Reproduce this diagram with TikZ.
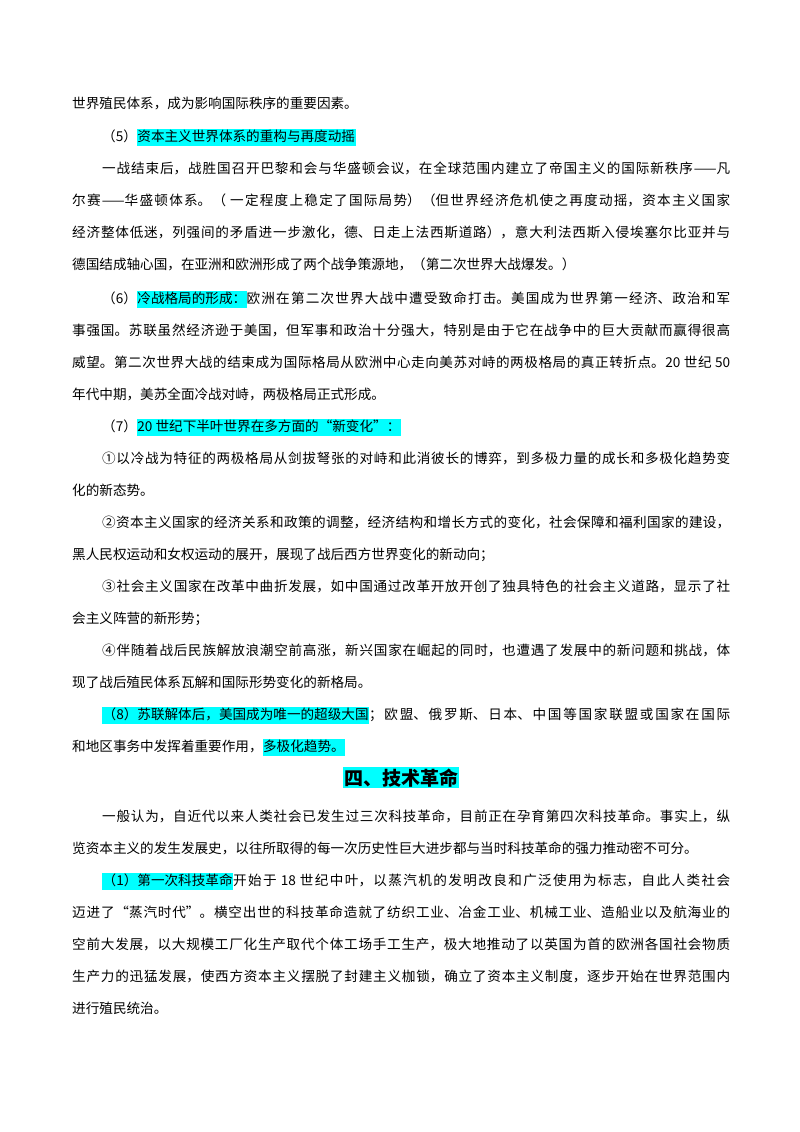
\documentclass[tikz,border=0pt]{standalone}
\usepackage{fontspec}
\newfontfamily\cjk{Noto Sans CJK SC}
\definecolor{hlc}{HTML}{00FFFF}
\newcommand\hl[1]{{\setlength\fboxsep{0.5pt}\colorbox{hlc}{\strut #1}}}
\XeTeXlinebreaklocale "zh"
\XeTeXlinebreakskip=0pt plus 2pt
\begin{document}
\begin{tikzpicture}[x=1pt,y=-1pt,
  t/.style={anchor=base west,inner sep=0pt,font=\cjk\fontsize{13.6}{16}\selectfont},
  f/.style={t,text width=658pt,align=justify,execute at begin node={\parfillskip=0pt}},
  fi/.style={f,text width=628pt},
  ti/.style={anchor=base,inner sep=0pt,font=\cjk\bfseries\fontsize{19}{22}\selectfont}]
\useasboundingbox (0,0) rectangle (800,1132);
\node[t] (l1) at (72,108) {世界殖民体系，成为影响国际秩序的重要因素。};
\node[t] (l2) at (102,141) {（5）\hl{资本主义世界体系的重构与再度动摇}};
\node[fi] (l3) at (102,173) {一战结束后，战胜国召开巴黎和会与华盛顿会议，在全球范围内建立了帝国主义的国际新秩序——凡};
\node[f] (l4) at (72,205) {尔赛——华盛顿体系。（ 一定程度上稳定了国际局势）（但世界经济危机使之再度动摇，资本主义国家};
\node[f] (l5) at (72,237) {经济整体低迷，列强间的矛盾进一步激化，德、日走上法西斯道路），意大利法西斯入侵埃塞尔比亚并与};
\node[t] (l6) at (72,269) {德国结成轴心国，在亚洲和欧洲形成了两个战争策源地，（第二次世界大战爆发。）};
\node[fi] (l7) at (102,303) {（6）\hl{冷战格局的形成：}欧洲在第二次世界大战中遭受致命打击。美国成为世界第一经济、政治和军};
\node[f] (l8) at (72,335) {事强国。苏联虽然经济逊于美国，但军事和政治十分强大，特别是由于它在战争中的巨大贡献而赢得很高};
\node[f] (l9) at (72,367) {威望。第二次世界大战的结束成为国际格局从欧洲中心走向美苏对峙的两极格局的真正转折点。20 世纪 50};
\node[t] (l10) at (72,399) {年代中期，美苏全面冷战对峙，两极格局正式形成。};
\node[t] (l11) at (102,431) {（7）\hl{20 世纪下半叶世界在多方面的“新变化”：}};
\node[fi] (l12) at (102,463) {①以冷战为特征的两极格局从剑拔弩张的对峙和此消彼长的博弈，到多极力量的成长和多极化趋势变};
\node[t] (l13) at (72,495) {化的新态势。};
\node[fi] (l14) at (102,527) {②资本主义国家的经济关系和政策的调整，经济结构和增长方式的变化，社会保障和福利国家的建设，};
\node[t] (l15) at (72,559) {黑人民权运动和女权运动的展开，展现了战后西方世界变化的新动向；};
\node[fi] (l16) at (102,591) {③社会主义国家在改革中曲折发展，如中国通过改革开放开创了独具特色的社会主义道路，显示了社};
\node[t] (l17) at (72,623) {会主义阵营的新形势；};
\node[fi] (l18) at (102,655) {④伴随着战后民族解放浪潮空前高涨，新兴国家在崛起的同时，也遭遇了发展中的新问题和挑战，体};
\node[t] (l19) at (72,687) {现了战后殖民体系瓦解和国际形势变化的新格局。};
\node[fi] (l20) at (102,719) {\hl{（8）苏联解体后，美国成为唯一的超级大国}；欧盟、俄罗斯、日本、中国等国家联盟或国家在国际};
\node[t] (l21) at (72,751) {和地区事务中发挥着重要作用，\hl{多极化趋势。}};
\node[ti,fill=hlc,inner sep=1pt] (h) at (401,785) {四、技术革命};
\node[fi] (l22) at (102,821) {一般认为，自近代以来人类社会已发生过三次科技革命，目前正在孕育第四次科技革命。事实上，纵};
\node[t] (l23) at (72,853) {览资本主义的发生发展史，以往所取得的每一次历史性巨大进步都与当时科技革命的强力推动密不可分。};
\node[fi] (l24) at (102,885) {\hl{（1）第一次科技革命}开始于 18 世纪中叶，以蒸汽机的发明改良和广泛使用为标志，自此人类社会};
\node[f] (l25) at (72,917) {迈进了“蒸汽时代”。横空出世的科技革命造就了纺织工业、冶金工业、机械工业、造船业以及航海业的};
\node[f] (l26) at (72,949) {空前大发展，以大规模工厂化生产取代个体工场手工生产，极大地推动了以英国为首的欧洲各国社会物质};
\node[f] (l27) at (72,981) {生产力的迅猛发展，使西方资本主义摆脱了封建主义枷锁，确立了资本主义制度，逐步开始在世界范围内};
\node[t] (l28) at (72,1013) {进行殖民统治。};
\end{tikzpicture}
\end{document}
